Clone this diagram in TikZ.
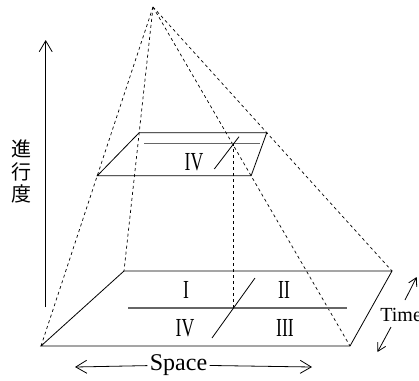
\documentclass[tikz,border=0pt]{standalone}
\usepackage{fontspec}
\usepackage{graphicx}
\setmainfont{Liberation Serif}
\newfontfamily\jpfont{Noto Sans CJK JP}
\usetikzlibrary{arrows.meta, calc}

\newcommand{\rnum}[1]{\scalebox{0.68}[1]{#1}}

\begin{document}
\begin{tikzpicture}[x=1pt, y=-1pt, line width=0.8pt,
  hidden/.style={dash pattern=on 3pt off 3pt, line width=0.7pt},
  divider/.style={black!60, line width=1.1pt},
  axis/.style={-{Straight Barb[length=11pt,width=13pt]}, line width=0.8pt},
  small axis/.style={-{Straight Barb[length=8pt,width=9pt]}, line width=0.8pt},
  numeral/.style={font=\fontsize{26}{26}\selectfont, inner sep=0pt}]
  \clip (0,0) rectangle (419,380);

  % pyramid
  \coordinate (apex) at (153,7);
  \coordinate (bfl) at (41,346);
  \coordinate (bfr) at (350,346);
  \coordinate (bbr) at (392,271);
  \coordinate (bbl) at (124,271);
  \coordinate (tfl) at ($(apex)!0.498!(bfl)$);
  \coordinate (tfr) at ($(apex)!0.498!(bfr)$);
  \coordinate (tbr) at ($(apex)!0.476!(bbr)$);
  \coordinate (tbl) at ($(apex)!0.476!(bbl)$);

  \draw (bfl) -- (bfr) -- (bbr) -- (bbl) -- cycle;
  \draw (tfl) -- (tfr) -- (tbr) -- (tbl) -- cycle;
  \foreach \c in {bfl, bfr, bbr, bbl}
    \draw [hidden] (apex) -- (\c);

  % quadrant lines
  \coordinate (bml) at (128,308);
  \coordinate (bmr) at (347,308);
  \coordinate (bdl) at (212,338);
  \coordinate (bdh) at (255,278);
  \coordinate (bmid) at (233.5,308);
  \coordinate (tml) at (144,143.3);
  \coordinate (tmr) at (260,143.3);
  \coordinate (tdl) at (214.3,169);
  \coordinate (tdh) at (239,136.7);
  \coordinate (tmid) at (233.5,143.3);
  \draw [divider] (bml) -- (bmr);
  \draw (bdl) -- (bdh);
  \draw [divider] (tml) -- (tmr);
  \draw (tdl) -- (tdh);
  \draw [hidden] (tmid) -- (bmid);

  \node (q1) [numeral] at (186,290) {\rnum{I}};
  \node (q2) [numeral] at (284,290) {\rnum{II}};
  \node (q4) [numeral] at (185,328) {\rnum{IV}};
  \node (q3) [numeral] at (285,328) {\rnum{III}};
  \node (top4) [numeral] at (194,162.5) {\rnum{IV}};

  % axes
  \coordinate (vlo) at (45.7,307);
  \coordinate (vhi) at (45.7,40);
  \draw [axis] (vlo) -- (vhi);
  \node (prog) [font=\jpfont\fontsize{20}{22.5}\selectfont, align=center, inner sep=0pt]
    at (21.7,171.5) {進\\行\\度};

  \node (space) [font=\fontsize{24}{24}\selectfont, inner sep=2pt] at (178.5,365) {Space};
  \coordinate (sl) at (75,367);
  \coordinate (sr) at (312,367);
  \draw [axis] (space) -- (sl);
  \draw [axis] (space) -- (sr);

  \node (time) [font=\fontsize{20}{20}\selectfont, anchor=base west, inner sep=0pt] at (380,321) {Time};
  \coordinate (tu1) at (405,300);
  \coordinate (tu2) at (416.7,277);
  \coordinate (td1) at (391,327);
  \coordinate (td2) at (377.5,352);
  \draw [small axis] (tu1) -- (tu2);
  \draw [small axis] (td1) -- (td2);
\end{tikzpicture}
\end{document}
